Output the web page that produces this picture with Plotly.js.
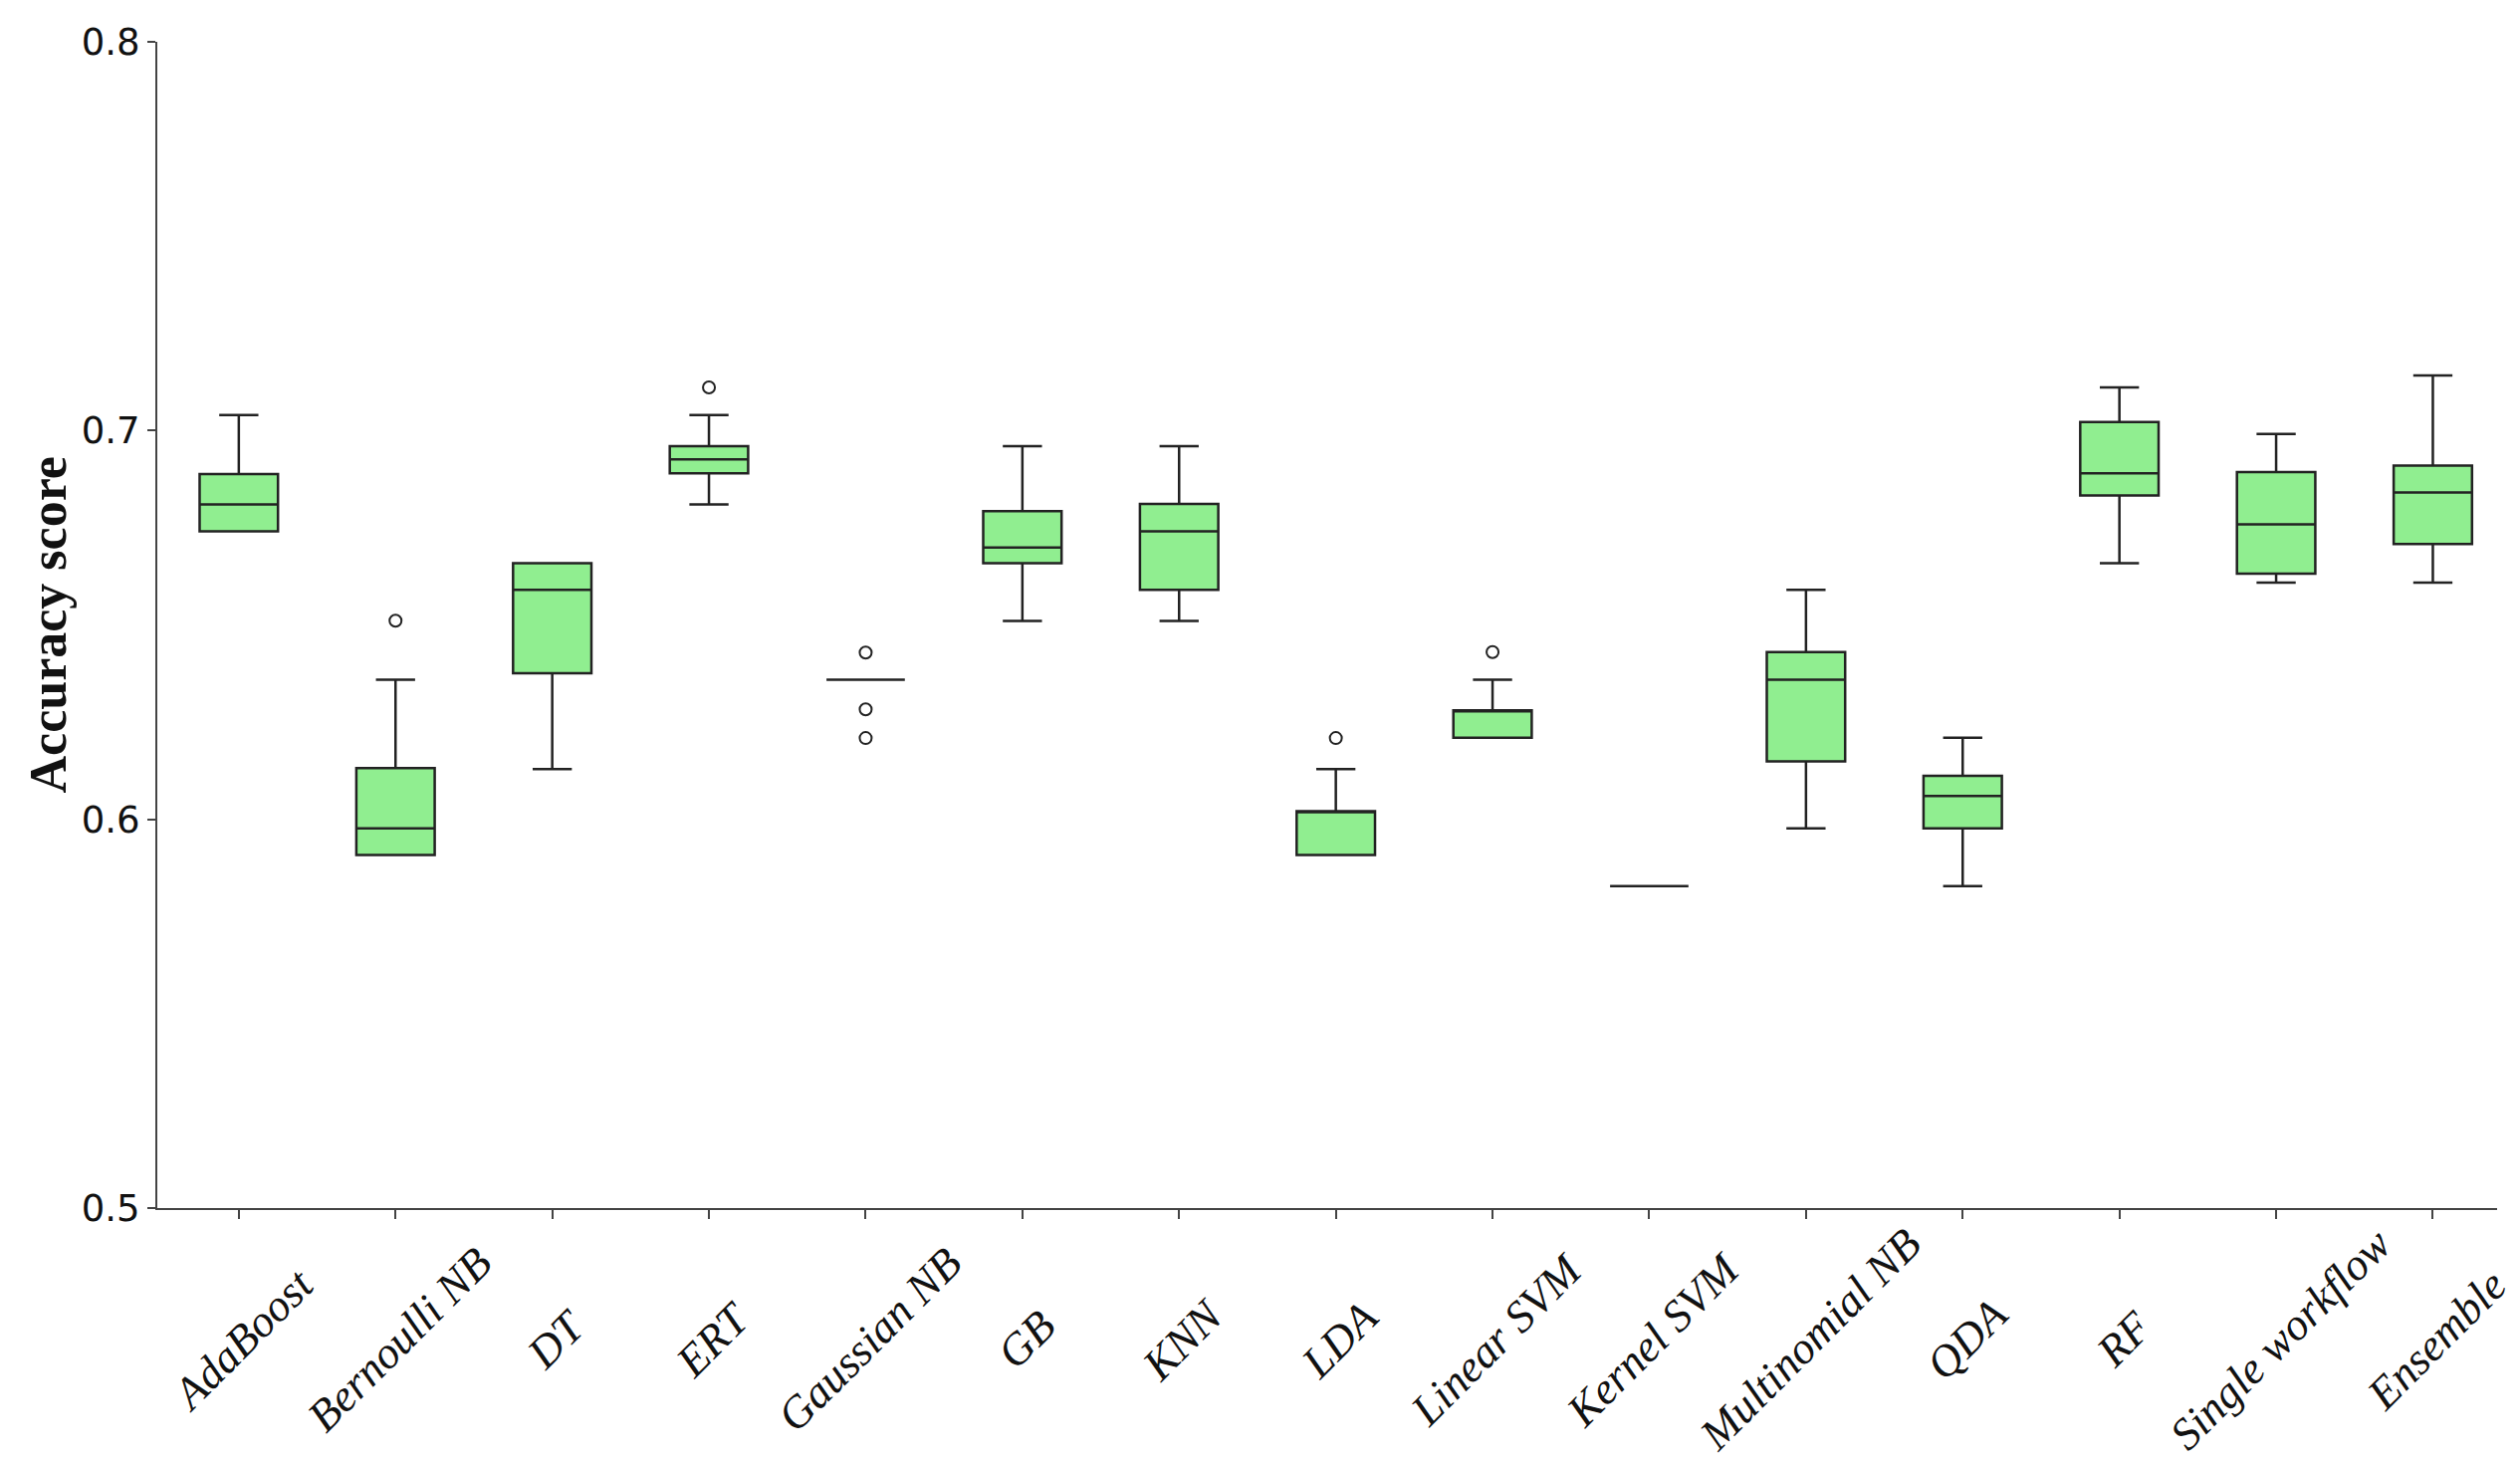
<!DOCTYPE html>
<html>
<head>
<meta charset="utf-8">
<script src="https://cdn.plot.ly/plotly-3.0.1.min.js"></script>
<style>
  html, body { margin: 0; padding: 0; background: #ffffff; }
  #chart { width: 2531px; height: 1470px; }
</style>
</head>
<body>
<div id="chart"></div>
<script>
const categories = ['AdaBoost', 'Bernoulli NB', 'DT', 'ERT', 'Gaussian NB', 'GB', 'KNN', 'LDA',
  'Linear SVM', 'Kernel SVM', 'Multinomial NB', 'QDA', 'RF', 'Single workflow', 'Ensemble'];
const lowerWhisker = [0.6741, 0.5908, 0.6129, 0.6810, 0.6359, 0.6510, 0.6510, 0.5908,
  0.6210, 0.5828, 0.5977, 0.5828, 0.6659, 0.6609, 0.6609];
const q1 = [0.6741, 0.5908, 0.6376, 0.6890, 0.6359, 0.6659, 0.6590, 0.5908,
  0.6210, 0.5828, 0.6149, 0.5977, 0.6833, 0.6632, 0.6708];
const median = [0.6810, 0.5977, 0.6590, 0.6926, 0.6359, 0.6699, 0.6741, 0.6021,
  0.6280, 0.5828, 0.6359, 0.6060, 0.6890, 0.6759, 0.6841];
const q3 = [0.6888, 0.6132, 0.6659, 0.6960, 0.6359, 0.6793, 0.6811, 0.6021,
  0.6280, 0.5828, 0.6430, 0.6112, 0.7022, 0.6893, 0.6910];
const upperWhisker = [0.7040, 0.6359, 0.6659, 0.7040, 0.6359, 0.6960, 0.6960, 0.6129,
  0.6359, 0.5828, 0.6590, 0.6210, 0.7111, 0.6991, 0.7142];
const outlierCategories = ['Bernoulli NB', 'ERT', 'Gaussian NB', 'Gaussian NB', 'Gaussian NB', 'LDA', 'Linear SVM'];
const outlierValues = [0.6511, 0.7111, 0.6429, 0.6283, 0.6209, 0.6209, 0.6430];
const yTickValues = [0.5, 0.6, 0.7, 0.8];
const yTickLabels = ['0.5', '0.6', '0.7', '0.8'];
const yTitle = 'Accuracy score';

const boxTrace = {
  type: 'box',
  x: categories,
  q1: q1,
  median: median,
  q3: q3,
  lowerfence: lowerWhisker,
  upperfence: upperWhisker,
  boxpoints: false,
  fillcolor: '#90EE90',
  line: { color: '#222222', width: 2.5 },
  whiskerwidth: 0.5,
  width: 0.5,
  showlegend: false,
  hoverinfo: 'skip'
};

const outlierTrace = {
  type: 'scatter',
  mode: 'markers',
  x: outlierCategories,
  y: outlierValues,
  marker: { symbol: 'circle-open', size: 12, color: '#222222', line: { width: 2, color: '#222222' } },
  showlegend: false,
  hoverinfo: 'skip'
};

const labelAnnotations = categories.map(function (c) {
  return {
    text: c,
    xref: 'x', yref: 'paper',
    x: c, y: -0.1127,
    xshift: 4,
    xanchor: 'center', yanchor: 'middle',
    textangle: -45,
    showarrow: false,
    font: { family: 'Liberation Serif', size: 45, color: '#111111', style: 'italic' }
  };
});

labelAnnotations.push({
  text: '<b>' + yTitle + '</b>',
  xref: 'paper', yref: 'paper',
  x: -0.0464, y: 0.5,
  xanchor: 'center', yanchor: 'middle',
  textangle: -90,
  showarrow: false,
  font: { family: 'Liberation Serif', size: 52, color: '#111111' }
});

const layout = {
  width: 2531,
  height: 1470,
  margin: { l: 158, r: 23, t: 42, b: 257, pad: 0 },
  paper_bgcolor: '#ffffff',
  plot_bgcolor: '#ffffff',
  showlegend: false,
  boxmode: 'overlay',
  xaxis: {
    type: 'category',
    categoryorder: 'array',
    categoryarray: categories,
    range: [-0.52, 14.41],
    showline: true,
    linecolor: '#444444',
    linewidth: 2,
    showgrid: false,
    zeroline: false,
    ticks: 'outside',
    ticklen: 9,
    tickwidth: 2,
    tickcolor: '#444444',
    showticklabels: false,
    fixedrange: true
  },
  yaxis: {
    range: [0.5, 0.8],
    tickvals: yTickValues,
    ticktext: yTickLabels,
    showline: true,
    linecolor: '#444444',
    linewidth: 2,
    showgrid: false,
    zeroline: false,
    ticks: 'outside',
    ticklen: 8,
    tickwidth: 2,
    tickcolor: '#444444',
    tickfont: { family: 'DejaVu Sans, sans-serif', size: 37, color: '#111111' },
    fixedrange: true
  },
  annotations: labelAnnotations
};

Plotly.newPlot('chart', [boxTrace, outlierTrace], layout, { staticPlot: true, displayModeBar: false });
</script>
</body>
</html>
